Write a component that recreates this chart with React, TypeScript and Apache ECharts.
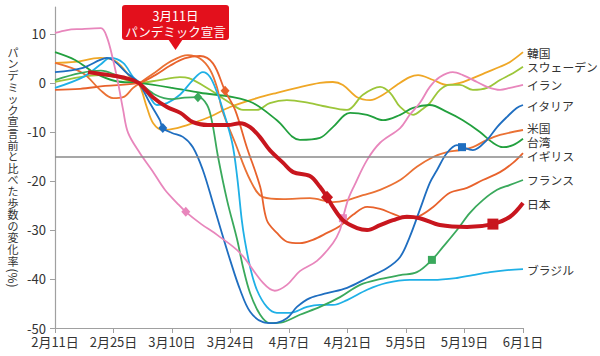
import React, { useEffect, useRef } from "react";
import * as echarts from "echarts";

// x = days since Feb 11 (2020); tick every 14 days
const xTickLabels = ["2月11日", "2月25日", "3月10日", "3月24日", "4月7日", "4月21日", "5月5日", "5月19日", "6月1日"];
const yTickValues = [-50, -40, -30, -20, -10, 0, 10];
const referenceLevel = -15;

const korea = [[0,4.1],[4.8,4.3],[10.8,5.1],[13.9,4.7],[16,3.3],[18,1.2],[20,0],[22,-5],[23.5,-8.2],[25.8,-9.6],[29.2,-9.2],[33,-8.2],[37.1,-6.9],[41.9,-4.9],[48.3,-3.1],[53.1,-2],[57.9,-1],[63.4,0],[66.5,0.2],[68.9,-0.4],[72.3,-2.9],[75.4,-3.5],[78.5,-2.4],[81.8,-0.4],[84.9,1.2],[86.9,1.6],[90.5,0.6],[93.8,-0.4],[96.9,0],[100,1],[103.4,2.2],[106.5,3.3],[108.9,4.3],[112,6.3]];
const sweden = [[0,0.2],[6,1.2],[10.8,1.6],[14.8,1.2],[20,0],[25,0.6],[29.9,1.2],[32,1],[37.1,-1.4],[41.9,-4.1],[45,-5.5],[48.3,-5.5],[51.4,-4.1],[55.5,-3.5],[61,-4.1],[64.1,-4.7],[69.9,-5.5],[73.7,-2.4],[77.8,-0.8],[80.2,-2],[82.6,-4.9],[85.7,-6.5],[88,-5.3],[89.7,-4.1],[92.1,-1.4],[94.5,-0.4],[96.9,-0.4],[100,-1.4],[103.4,-1],[106.5,0.6],[109.6,2],[112,3.3]];
const iran = [[0,10.2],[2.9,10.8],[6,11],[11,11.2],[12.4,9.4],[13.9,4.7],[15.1,0],[16.3,-5.5],[17.5,-10.2],[20.3,-14.3],[23.2,-17.8],[26.3,-21.8],[29.2,-24.5],[31.3,-26.3],[35,-28.8],[38.8,-31],[44.3,-34.7],[49.8,-40.8],[52.6,-42.4],[55.5,-41.2],[58.6,-38.4],[62.7,-36.3],[66.5,-32.7],[68.2,-30],[68.9,-27.6],[70.1,-23.9],[71.6,-21],[74.7,-15.7],[77.8,-12.2],[82.6,-9.2],[84.9,-6.5],[87.3,-4.1],[89.7,-0.8],[92.1,1.2],[95.2,2.2],[97.6,1.6],[101,0.2],[103.4,-0.8],[106.5,-1.4],[108.9,-1],[112,-0.4]];
const italy = [[0,2.2],[6.7,3.1],[10.8,4.7],[12.4,5.1],[14.4,4.3],[17.2,2],[20,0],[22.7,-4.1],[25.1,-7.6],[25.8,-9.2],[28,-10.2],[30.6,-11],[33,-13.1],[35.4,-17.8],[37.8,-24.5],[39.5,-29.4],[41.9,-36.1],[44.3,-42.2],[46.7,-46.7],[49.8,-48.8],[52.2,-49],[55.5,-48],[57.9,-45.7],[61,-43.9],[65.1,-42.9],[69.9,-41.8],[74.7,-39.8],[79.4,-37.8],[82.6,-35.5],[84.9,-31.4],[87.3,-25.9],[89.7,-20.4],[91.4,-17.8],[93.8,-14.3],[96.2,-12.7],[97.4,-13.1],[100,-13.7],[103.4,-11.6],[105.8,-9],[108.2,-6.9],[110.5,-5.1],[112,-4.5]];
const usa = [[0,4.1],[6.7,2],[10.8,-1.4],[13.9,-3.1],[16.3,-2.9],[18.7,-1],[20.3,0],[24,2.2],[27.5,4.3],[31.8,5.7],[34.7,5],[37.1,2.7],[38.8,-1],[40,-5.5],[43.1,-12.2],[46.7,-19.8],[49.8,-23.3],[54.6,-23.7],[61,-23.5],[66.5,-24.3],[69.9,-23.9],[73.7,-22.9],[77.8,-21.8],[82.6,-19.8],[86.6,-17.1],[90.5,-15.1],[93.8,-14.1],[96.9,-13.7],[100,-13.1],[103.4,-11.6],[106.5,-10.6],[112,-9.6]];
const taiwan = [[0,6.3],[4.8,4.7],[9.6,2],[14.4,0.4],[20,0],[28,-1],[34.7,-2],[42.6,-2.9],[47.4,-4.1],[53.1,-7.6],[58.6,-11.6],[63.4,-11.2],[66.5,-9],[70.6,-6.1],[74.7,-6.5],[78.5,-7.6],[82.6,-6.5],[85.7,-5.1],[89.7,-4.5],[93.8,-5.9],[97.6,-7.6],[101.7,-10],[104.8,-12.2],[107.2,-13.1],[109.6,-12.7],[112,-11.4]];
const uk = [[0,-1.4],[6,-1.2],[12,-0.6],[20,0],[24,1.6],[27.5,3.5],[31,5],[34.7,5.5],[37.8,4],[40.7,-1.6],[43.1,-5.5],[45.9,-13.1],[49.1,-21.2],[50.7,-28],[53.1,-30.6],[55.5,-32.4],[58.6,-32.7],[61.7,-32],[65.1,-30.6],[68.2,-29.2],[71.3,-26.9],[74.7,-25.3],[77.8,-25.7],[80.9,-26.7],[84.2,-27.6],[87.3,-27.1],[90.5,-25.3],[94.5,-22.4],[98.6,-21.4],[102.4,-19.8],[106.5,-18.2],[109.6,-16.3],[112,-14.3]];
const france = [[0,0.6],[6,2],[11,2.5],[15,1.5],[20,0],[24,-2.4],[28,-3.3],[31,-3],[34.2,-2.9],[36.4,-4.5],[37.6,-8],[39,-15],[41.2,-24],[43.6,-32],[45,-37.6],[46.7,-42.9],[49.1,-47.3],[51.4,-49],[54.6,-48.8],[58.6,-47.3],[63.4,-45.7],[68.2,-43.7],[73,-41.2],[78,-40],[82.6,-39.2],[86.6,-38.6],[90.2,-36.1],[92.8,-33.5],[96.2,-30],[99.3,-26.5],[102.4,-23.9],[105.8,-21.8],[108.9,-20.8],[112,-19.8]];
const japan = [[7.9,2.2],[13,1.6],[17,1],[20,0],[23.4,-2.9],[26.8,-4.9],[30,-6.1],[33,-8],[36.6,-8.6],[41.4,-8.6],[44.3,-8.2],[46.7,-9],[49,-11],[51.4,-13.7],[54.6,-16.3],[57,-18.2],[61,-19],[63.4,-21.2],[65.1,-23.3],[66.5,-25.3],[68.9,-28],[72.3,-29.6],[74.7,-30],[77.8,-29],[80.9,-28],[84.2,-27.3],[87.3,-27.6],[92.1,-29],[98.6,-29.4],[104.8,-28.8],[108.9,-27.3],[112,-24.5]];
const brazil = [[0,-1],[6.7,1.2],[10.8,3.7],[13.2,5.1],[16.3,4.1],[18.7,1.2],[20.3,0],[22.7,-2.9],[24.4,-4.5],[26.8,-4.1],[29.9,-2.4],[33,0.6],[35.4,2.2],[37.1,1.2],[38.8,-2],[40.2,-5.5],[42.4,-12.2],[43.6,-19.2],[44.7,-28],[45.4,-32],[46.7,-37.6],[48.3,-42.2],[50.7,-45.7],[53.1,-46.9],[56.2,-46.9],[60.3,-45.7],[63.4,-45.3],[66.5,-45.3],[69.9,-44.3],[74.7,-42.2],[79.4,-40.8],[84.9,-40.2],[90.5,-40.2],[96.2,-39.8],[100,-39.2],[104.1,-38.6],[108.2,-38.2],[112,-38]];

// markers: [x, y] of lockdown start (diamond) and lifting (square)
const italyMarks = { start: [25.8, -9.2], end: [97.4, -13.1] };
const iranMarks = { start: [31.3, -26.3], end: [68.9, -27.6] };
const franceMarks = { start: [34.2, -2.9], end: [90.2, -36.1] };
const ukMarks = { start: [40.7, -1.6] };
const japanMarks = { start: [65.1, -23.3], end: [104.8, -28.8] };

const FONT = '"Noto Sans CJK JP", "Noto Sans", sans-serif';
const yTitle = "パンデミック宣言前と比べた歩数の変化率";

function mk(name: string, data: number[][], color: string, opts: any = {}) {
  const marks: any[] = [];
  const m = opts.marks;
  const ms = opts.markSize || 9;
  if (m && m.start) marks.push({ coord: m.start, symbol: "diamond", symbolSize: [ms, ms + 1], itemStyle: { color } });
  if (m && m.end) marks.push({ coord: m.end, symbol: "rect", symbolSize: ms - 1, itemStyle: { color } });
  const s: any = {
    type: "line",
    name,
    data,
    smooth: 0.35,
    symbol: "none",
    silent: true,
    lineStyle: { color, width: opts.width || 1.8 },
    itemStyle: { color },
    z: opts.z || 2,
    endLabel: {
      show: true,
      formatter: () => name,
      color: "#333",
      fontSize: 11.8,
      lineHeight: 12,
      fontFamily: FONT,
      distance: 4,
      offset: opts.offset || [0, 0],
    },
  };
  if (marks.length) s.markPoint = { data: marks, label: { show: false }, silent: true, animation: false };
  return s;
}

export default function App() {
  const ref = useRef<HTMLDivElement>(null);
  useEffect(() => {
    const chart = echarts.init(ref.current!, null, { renderer: "svg" });
    const korea_s = mk("韓国", korea, "#efa726");
    korea_s.markLine = {
      silent: true,
      symbol: "none",
      label: { show: false },
      lineStyle: { color: "#8a8a8a", width: 1.5, type: "solid" },
      data: [{ yAxis: referenceLevel }],
      animation: false,
    };
    const option: any = {
      animation: false,
      textStyle: { fontFamily: FONT },
      grid: { left: 55, right: 77, top: 7, bottom: 28 },
      xAxis: {
        type: "value",
        min: 0,
        max: 112,
        interval: 14,
        axisLine: { onZero: false, lineStyle: { color: "#a0a0a0", width: 1.2 } },
        axisTick: { show: true, length: 5, lineStyle: { color: "#a0a0a0" } },
        axisLabel: {
          color: "#333",
          fontSize: 13,
          margin: 7,
          fontFamily: FONT,
          formatter: (v: number) => xTickLabels[Math.round(v / 14)] || "",
        },
        splitLine: { show: false },
      },
      yAxis: {
        type: "value",
        min: -50,
        max: 15.5,
        axisLine: { show: true, onZero: false, lineStyle: { color: "#a0a0a0", width: 1.2 } },
        axisTick: { show: true, length: 5, customValues: yTickValues, lineStyle: { color: "#a0a0a0" } },
        axisLabel: { color: "#333", fontSize: 13, margin: 9, fontFamily: FONT, customValues: yTickValues },
        splitLine: { show: false },
      },
      series: [
        korea_s,
        mk("スウェーデン", sweden, "#9cc63a"),
        mk("台湾", taiwan, "#22a03e", { offset: [0, 3] }),
        mk("米国", usa, "#ea7134", { offset: [0, -3] }),
        mk("イギリス", uk, "#e8622c", { marks: ukMarks, offset: [0, 2] }),
        mk("ブラジル", brazil, "#1fb0e6"),
        mk("フランス", france, "#3aa95c", { marks: franceMarks }),
        mk("イタリア", italy, "#1f6ec0", { marks: italyMarks }),
        mk("イラン", iran, "#e886bc", { marks: iranMarks }),
        mk("日本", japan, "#c8161e", { marks: japanMarks, width: 4, z: 5, markSize: 12 }),
      ],
      graphic: [
        { type: "rect", shape: { x: 122, y: 5, width: 107, height: 35, r: 3 }, style: { fill: "#e3101c" }, z: 10 },
        { type: "polygon", shape: { points: [[168, 39], [183, 39], [175.5, 50]] }, style: { fill: "#e3101c" }, z: 10 },
        {
          type: "text",
          x: 175.5,
          y: 23,
          z: 11,
          style: {
            text: "3月11日\nパンデミック宣言",
            fill: "#fff",
            fontSize: 12.5,
            fontFamily: FONT,
            lineHeight: 16,
            align: "center",
            verticalAlign: "middle",
            textAlign: "center",
            textVerticalAlign: "middle",
          },
        },
        {
          type: "text",
          x: 13,
          y: 46,
          style: {
            text: yTitle.split("").join("\n"),
            fill: "#333",
            fontSize: 11,
            fontFamily: FONT,
            lineHeight: 11.6,
            align: "center",
            textAlign: "center",
            verticalAlign: "top",
            textVerticalAlign: "top",
          },
        },
        {
          type: "text",
          x: 13,
          y: 278,
          rotation: -Math.PI / 2,
          style: {
            text: "(%)",
            fill: "#333",
            fontSize: 12,
            fontFamily: FONT,
            align: "center",
            textAlign: "center",
            verticalAlign: "middle",
            textVerticalAlign: "middle",
          },
        },
      ],
    };
    chart.setOption(option);
    return () => chart.dispose();
  }, []);
  return <div ref={ref} style={{ position: "absolute", left: 0, top: 0, width: 600, height: 356 }} />;
}
